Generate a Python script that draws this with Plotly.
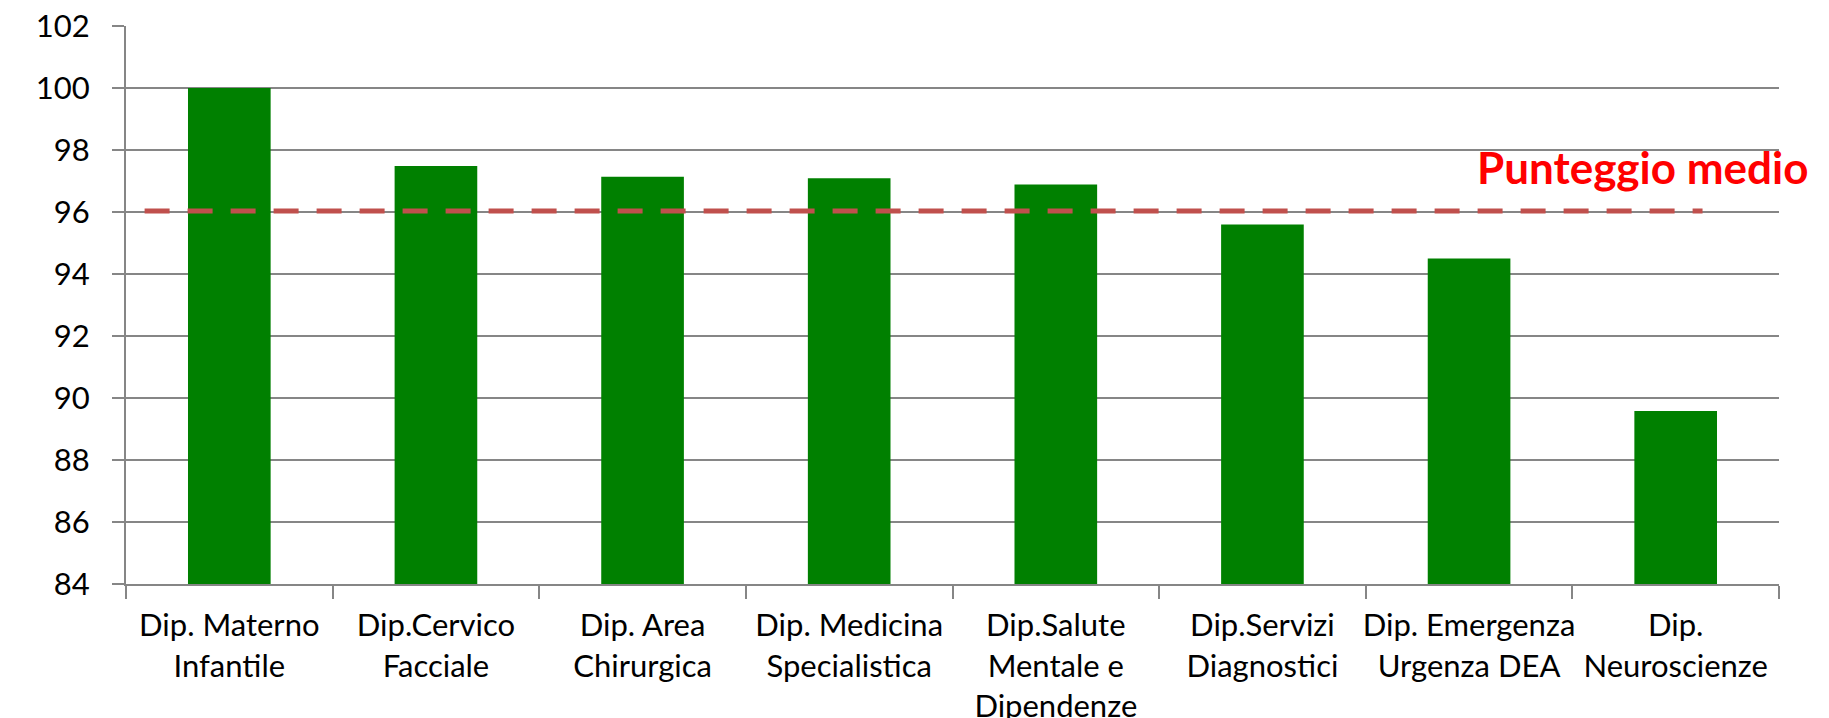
import plotly.graph_objects as go

categories = [
    "Dip. Materno<br>Infantile",
    "Dip.Cervico<br>Facciale",
    "Dip. Area<br>Chirurgica",
    "Dip. Medicina<br>Specialistica",
    "Dip.Salute<br>Mentale e<br>Dipendenze",
    "Dip.Servizi<br>Diagnostici",
    "Dip. Emergenza<br>Urgenza DEA",
    "Dip.<br>Neuroscienze",
]
scores = [100.0, 97.48, 97.14, 97.09, 96.89, 95.60, 94.50, 89.58]
average_score = 96.03
average_label = "Punteggio medio"
y_ticks = [84, 86, 88, 90, 92, 94, 96, 98, 100, 102]

GRID = "#868686"
FONT = "Lato"

fig = go.Figure()
fig.add_trace(go.Bar(
    x=categories,
    y=scores,
    marker=dict(color="#008000", line=dict(width=0)),
    width=0.4,
    showlegend=False,
    hoverinfo="x+y",
))

# average line (extent in category-index units)
fig.add_shape(
    type="line", xref="x", yref="y",
    x0=-0.41, x1=7.13, y0=average_score, y1=average_score,
    line=dict(color="#C0504D", width=5, dash="25px,18px"),
    layer="above",
)

fig.add_annotation(
    text="<b>" + average_label + "</b>",
    xref="paper", yref="y",
    x=1.0195, y=97.45,
    xanchor="right", yanchor="middle",
    showarrow=False,
    font=dict(family=FONT, size=44, color="#FF0000"),
)

fig.update_layout(
    width=1829, height=718,
    margin=dict(l=118, r=58, t=18, b=142),
    paper_bgcolor="white", plot_bgcolor="white",
    font=dict(family=FONT, size=31, color="black"),
    bargap=0.6,
)
fig.update_xaxes(
    type="category",
    showline=True, linecolor=GRID, linewidth=2,
    ticks="outside", tickson="boundaries", ticklen=13, tickwidth=2, tickcolor=GRID,
    showgrid=False,
    tickangle=0, automargin=False, ticklabelstandoff=13,
    ticklabeloverflow="allow",
    tickfont=dict(family=FONT, size=31, color="black"),
    range=[-0.5, 7.5],
)
fig.update_yaxes(
    range=[84, 102], tickvals=y_ticks,
    showline=True, linecolor=GRID, linewidth=2,
    ticks="outside", ticklen=12, tickwidth=2, tickcolor=GRID,
    showgrid=True, gridcolor=GRID, gridwidth=2,
    zeroline=False, automargin=False, ticklabelstandoff=16,
    ticklabeloverflow="allow",
    tickfont=dict(family=FONT, size=31, color="black"),
)

fig.write_html("out.html")
